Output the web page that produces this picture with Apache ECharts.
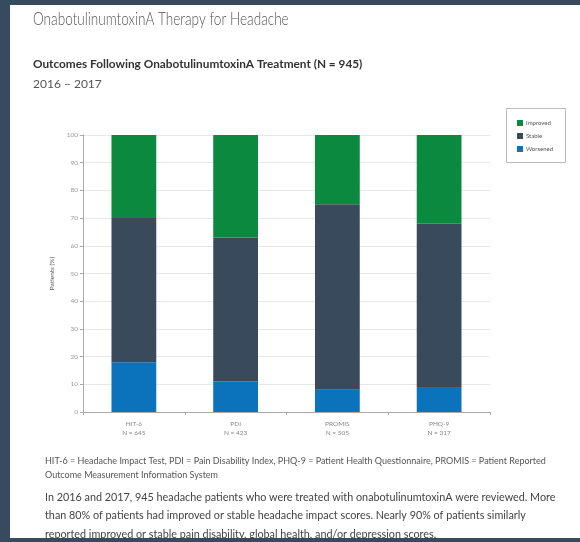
<!DOCTYPE html>
<html>
<head>
<meta charset="utf-8">
<script src="https://cdn.jsdelivr.net/npm/echarts@6/dist/echarts.min.js"></script>
<style>
  html, body { margin: 0; padding: 0; background: #364a60; }
  #chart { width: 580px; height: 542px; }
</style>
</head>
<body>
<div id="chart"></div>
<script>
// Measures and sample sizes
const categories = ['HIT-6\nN = 645', 'PDI\nN = 423', 'PROMIS\nN = 505', 'PHQ-9\nN = 317'];
// Share of patients (%) per outcome
const worsened = [18, 11, 8, 9];
const stable = [52, 52, 67, 59];
const improved = [30, 37, 25, 32];
const yTicks = [0, 10, 20, 30, 40, 50, 60, 70, 80, 90, 100];

const colors = { improved: '#0b8a3f', stable: '#3a4a5d', worsened: '#0a73bb' };

const chart = echarts.init(document.getElementById('chart'), null, { renderer: 'canvas' });

const textBase = { fontFamily: 'Lato, "Open Sans", sans-serif' };

chart.setOption({
  backgroundColor: '#364a60',
  animation: false,
  graphic: [
    { type: 'rect', shape: { x: 10, y: 5, width: 570, height: 533 }, style: { fill: '#ffffff' }, z: -10 },
    { type: 'text', x: 33, y: 11, scaleX: 0.8, originX: 0,
      style: Object.assign({}, textBase, { text: 'OnabotulinumtoxinA Therapy for Headache', fontSize: 17, fontWeight: 300, fill: '#555' }) },
    { type: 'text', left: 33, top: 58, style: Object.assign({}, textBase, { text: 'Outcomes Following OnabotulinumtoxinA Treatment (N = 945)', fontSize: 11.8, fontWeight: 'bold', fill: '#333' }) },
    { type: 'text', left: 33, top: 78, style: Object.assign({}, textBase, { text: '2016 \u2013 2017', fontSize: 12, fill: '#555' }) },
    { type: 'text', left: 45, top: 454, style: Object.assign({}, textBase, {
        text: 'HIT-6 = Headache Impact Test, PDI = Pain Disability Index, PHQ-9 = Patient Health Questionnaire, PROMIS = Patient Reported\nOutcome Measurement Information System',
        fontSize: 9, lineHeight: 14, fill: '#555' }) },
    { type: 'text', left: 45, top: 488, style: Object.assign({}, textBase, {
        text: 'In 2016 and 2017, 945 headache patients who were treated with onabotulinumtoxinA were reviewed. More\nthan 80% of patients had improved or stable headache impact scores. Nearly 90% of patients similarly\nreported improved or stable pain disability, global health, and/or depression scores.',
        fontSize: 10.8, lineHeight: 18.5, fill: '#444' }) },
    { type: 'rect', shape: { x: 506.5, y: 108.5, width: 59, height: 54 }, style: { fill: '#fff', stroke: '#bbb', lineWidth: 1 }, z: 5 }
  ],
  legend: {
    data: ['Improved', 'Stable', 'Worsened'],
    orient: 'vertical',
    left: 512,
    top: 115,
    itemWidth: 6,
    itemHeight: 6,
    itemGap: 7,
    icon: 'rect',
    textStyle: Object.assign({}, textBase, { fontSize: 6, color: '#555', padding: [0, 0, 0, -2] }),
    z: 10
  },
  grid: { left: 83, right: 90, top: 135, bottom: 130 },
  xAxis: {
    type: 'category',
    data: categories,
    axisLine: { lineStyle: { color: '#aaa' } },
    axisTick: { show: true, length: 3, lineStyle: { color: '#aaa' } },
    axisLabel: Object.assign({}, textBase, { fontSize: 6.5, color: '#888', lineHeight: 9, margin: 7 })
  },
  yAxis: {
    type: 'value',
    min: 0,
    max: 100,
    interval: 10,
    name: 'Patients (%)',
    nameLocation: 'middle',
    nameGap: 24,
    nameTextStyle: Object.assign({}, textBase, { fontSize: 6.5, color: '#555' }),
    axisLine: { show: true, lineStyle: { color: '#aaa' } },
    axisTick: { show: true, length: 3, lineStyle: { color: '#aaa' } },
    axisLabel: Object.assign({}, textBase, { fontSize: 6.5, color: '#999', margin: 5,
      formatter: v => yTicks.includes(v) ? String(v) : '' }),
    splitLine: { lineStyle: { color: '#e8e8e8' } }
  },
  series: [
    { name: 'Worsened', type: 'bar', stack: 'total', data: worsened, barWidth: '44%', itemStyle: { color: colors.worsened } },
    { name: 'Stable', type: 'bar', stack: 'total', data: stable, itemStyle: { color: colors.stable } },
    { name: 'Improved', type: 'bar', stack: 'total', data: improved, itemStyle: { color: colors.improved } }
  ]
});
</script>
</body>
</html>
